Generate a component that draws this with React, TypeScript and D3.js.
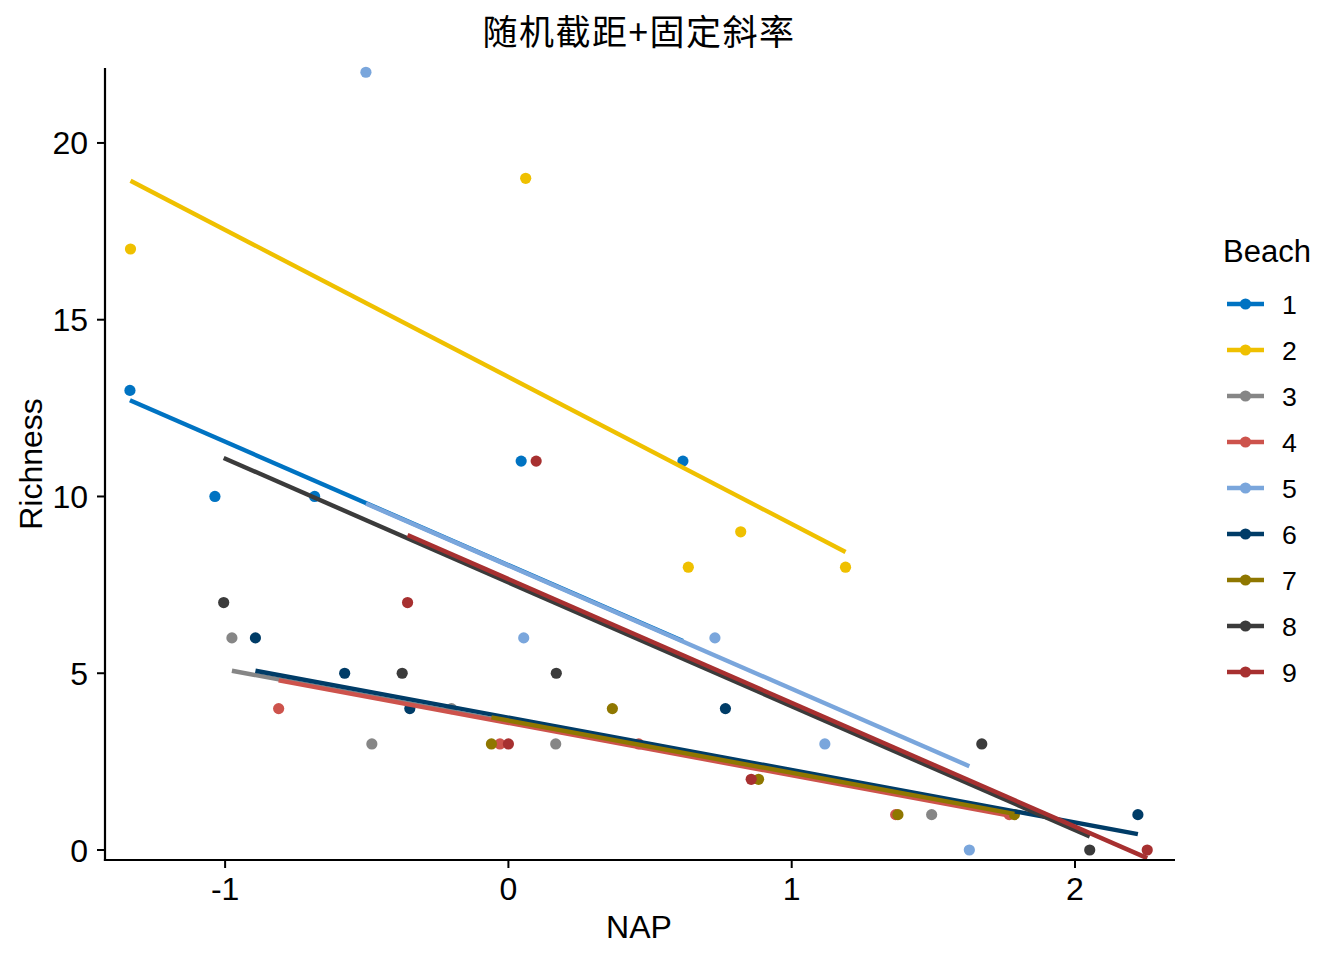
import * as d3 from "d3";
import * as React from "react";

// RIKZ samples, five per beach
const beaches = ["1", "2", "3", "4", "5", "6", "7", "8", "9"];
const beachColors = [
  "#0073C2", "#EFC000", "#868686", "#CD534C", "#7AA6DC",
  "#003C67", "#8F7700", "#3B3B3B", "#A73030",
];
const sampleBeach = [
  1, 1, 1, 1, 1, 2, 2, 2, 2, 2, 3, 3, 3, 3, 3, 4, 4, 4, 4, 4, 5, 5, 5,
  5, 5, 6, 6, 6, 6, 6, 7, 7, 7, 7, 7, 8, 8, 8, 8, 8, 9, 9, 9, 9, 9,
];
const sampleNAP = [
  0.045, -1.036, -1.336, 0.616, -0.684, 1.19, 0.82, 0.635, 0.061, -1.334,
  -0.976, 1.494, -0.201, -0.482, 0.167, 1.768, -0.03, 0.46, 1.367, -0.811,
  1.117, -0.503, 0.729, 1.627, 0.054, -0.578, -0.348, 2.222, -0.893, 0.766,
  0.883, 1.786, 1.375, -0.06, 0.367, 1.671, -0.375, 2.052, -1.005, 0.169,
  -0.356, 0.098, 2.255, 0.857, 0.0,
];
const sampleRichness = [
  11, 10, 13, 11, 10, 8, 9, 8, 19, 17, 6, 1, 4, 3, 3, 1, 3, 3, 1, 4,
  3, 22, 6, 0, 6, 5, 4, 1, 6, 4, 2, 1, 1, 3, 4, 3, 5, 0, 7, 5,
  7, 11, 0, 2, 3,
];
// fitted values at each beach's lowest and highest NAP
const fitAtMin = [12.72, 18.93, 5.07, 4.8, 9.8, 5.07, 3.75, 11.09, 8.91];
const fitAtMax = [5.91, 8.43, 1.41, 0.97, 2.37, 0.45, 1.02, 0.38, -0.23];

const xTicks = [-1, 0, 1, 2];
const yTicks = [0, 5, 10, 15, 20];

const width = 1344;
const height = 960;
const panel = { left: 105, right: 1175, top: 68, bottom: 860 };
const font = "Arial, 'Liberation Sans', sans-serif";

export default function App() {
  const x = d3.scaleLinear().domain([-1.424, 2.353]).range([panel.left, panel.right]);
  const y = d3.scaleLinear().domain([-0.283, 22.12]).range([panel.bottom, panel.top]);

  const points = sampleNAP.map((nap, i) => ({
    nap,
    richness: sampleRichness[i],
    beach: sampleBeach[i] - 1,
  }));

  const fits = beaches.map((b, i) => {
    const naps = points.filter((p) => p.beach === i).map((p) => p.nap);
    const [lo, hi] = d3.extent(naps) as [number, number];
    return [
      { nap: lo, fit: fitAtMin[i] },
      { nap: hi, fit: fitAtMax[i] },
    ];
  });

  const line = d3
    .line<{ nap: number; fit: number }>()
    .x((d) => x(d.nap))
    .y((d) => y(d.fit));

  const legendX = 1227;
  const legendY0 = 304;
  const legendStep = 46;

  return (
    <svg
      width={width}
      height={height}
      style={{ position: "absolute", left: 0, top: 0, background: "#fff" }}
      fontFamily={font}
    >
      <rect width={width} height={height} fill="#fff" />
      <text
        x={639}
        y={45}
        textAnchor="middle"
        fontSize={35}
        letterSpacing={1.5}
        fontFamily="'Noto Sans CJK SC', sans-serif"
      >
        随机截距+固定斜率
      </text>

      {/* points */}
      <g>
        {points.map((p, i) => (
          <circle
            key={i}
            cx={x(p.nap)}
            cy={y(p.richness)}
            r={5.6}
            fill={beachColors[p.beach]}
          />
        ))}
      </g>

      {/* fitted lines */}
      <g fill="none" strokeWidth={4.4}>
        {fits.map((f, i) => (
          <path key={i} d={line(f) || ""} stroke={beachColors[i]} />
        ))}
      </g>

      {/* axes */}
      <g stroke="#000">
        <line x1={panel.left} x2={panel.left} y1={panel.top} y2={panel.bottom + 1.1} strokeWidth={2.2} />
        <line x1={panel.left - 1.1} x2={panel.right} y1={panel.bottom} y2={panel.bottom} strokeWidth={2.2} />
        {yTicks.map((t) => (
          <line key={t} x1={panel.left - 8} x2={panel.left} y1={y(t)} y2={y(t)} strokeWidth={2} />
        ))}
        {xTicks.map((t) => (
          <line key={t} x1={x(t)} x2={x(t)} y1={panel.bottom} y2={panel.bottom + 8} strokeWidth={2} />
        ))}
      </g>
      <g fontSize={32} fill="#000">
        {yTicks.map((t) => (
          <text key={t} x={88} y={y(t)} dy="0.36em" textAnchor="end">
            {t}
          </text>
        ))}
        {xTicks.map((t) => (
          <text key={t} x={x(t)} y={900} textAnchor="middle">
            {t}
          </text>
        ))}
      </g>
      <text x={639} y={938} textAnchor="middle" fontSize={32}>
        NAP
      </text>
      <text
        transform={`translate(42, 464) rotate(-90)`}
        textAnchor="middle"
        fontSize={32}
      >
        Richness
      </text>

      {/* legend */}
      <text x={1223} y={262} fontSize={31}>
        Beach
      </text>
      {beaches.map((b, i) => {
        const cy = legendY0 + i * legendStep;
        return (
          <g key={b}>
            <line
              x1={legendX}
              x2={legendX + 37}
              y1={cy}
              y2={cy}
              stroke={beachColors[i]}
              strokeWidth={4.4}
            />
            <circle cx={legendX + 18.5} cy={cy} r={5.6} fill={beachColors[i]} />
            <text x={1282} y={cy} dy="0.36em" fontSize={26.7}>
              {b}
            </text>
          </g>
        );
      })}
    </svg>
  );
}
